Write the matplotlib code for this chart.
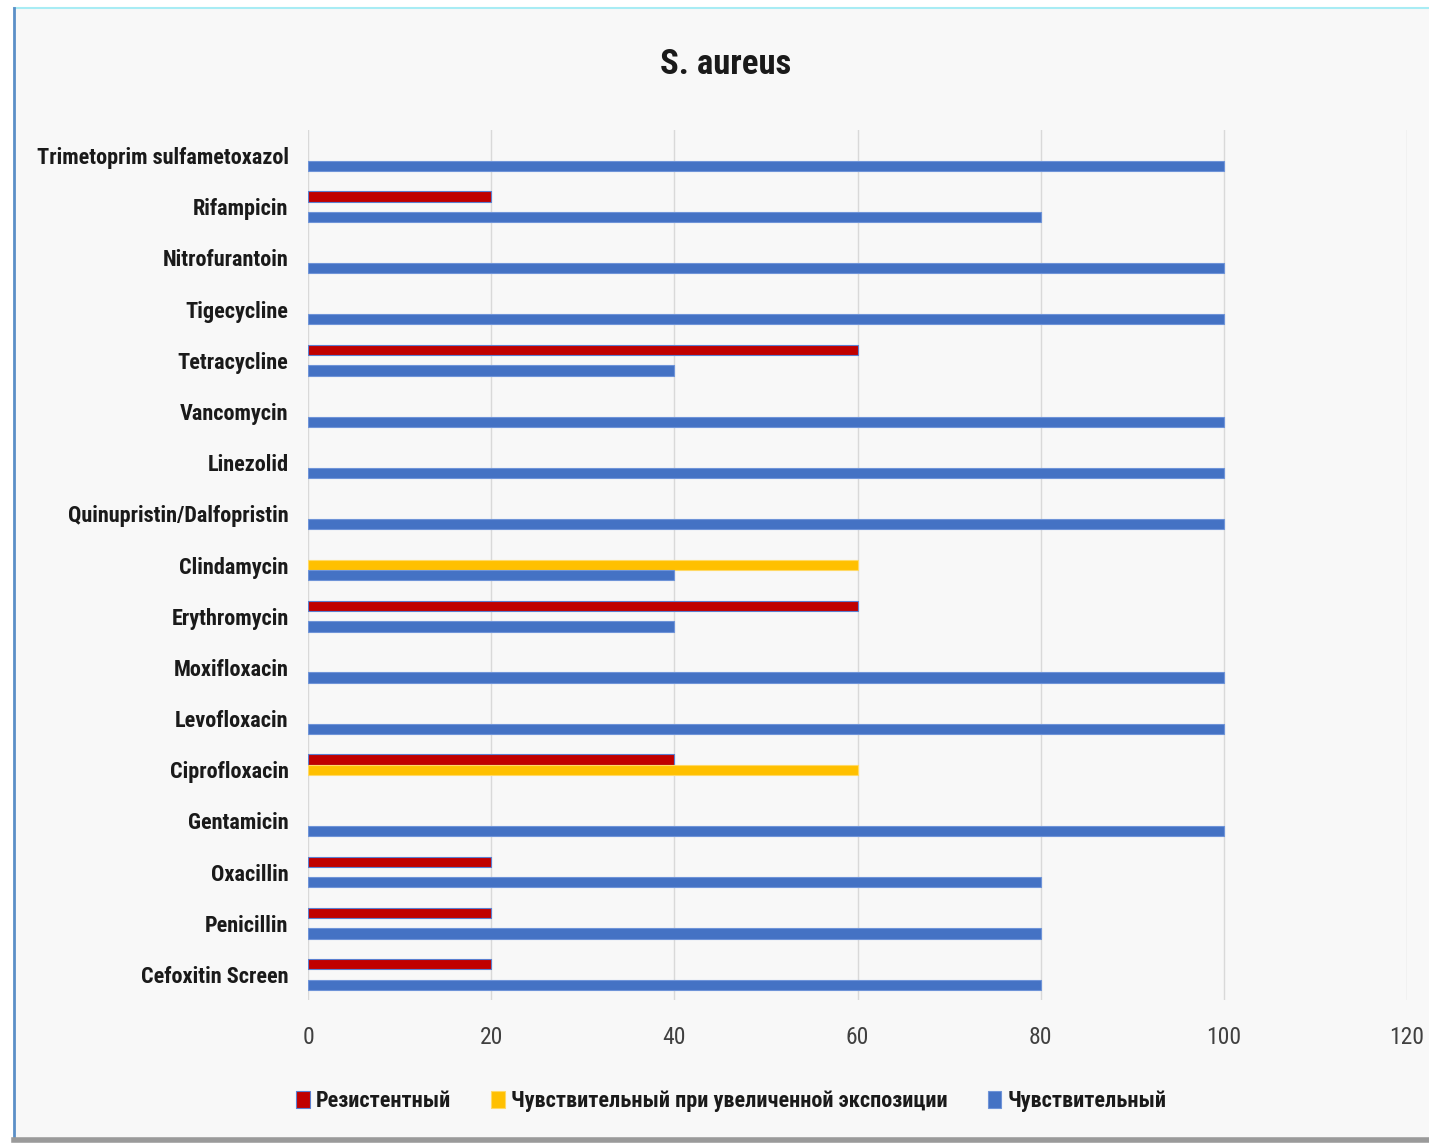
import numpy as np
import matplotlib
matplotlib.use("Agg")
from matplotlib import pyplot as plt
from matplotlib.patches import Rectangle
from matplotlib.lines import Line2D

plt.rcParams['font.family'] = ['Roboto Condensed', 'DejaVu Sans Condensed', 'Roboto', 'DejaVu Sans']
plt.rcParams['font.stretch'] = 'condensed'

# Data (bottom to top)
drugs = ["Cefoxitin Screen", "Penicillin", "Oxacillin", "Gentamicin", "Ciprofloxacin",
         "Levofloxacin", "Moxifloxacin", "Erythromycin", "Clindamycin",
         "Quinupristin/Dalfopristin", "Linezolid", "Vancomycin", "Tetracycline",
         "Tigecycline", "Nitrofurantoin", "Rifampicin", "Trimetoprim sulfametoxazol"]
resistant = [20, 20, 20, 0, 40, 0, 0, 60, 0, 0, 0, 0, 60, 0, 0, 20, 0]
intermediate = [0, 0, 0, 0, 60, 0, 0, 0, 60, 0, 0, 0, 0, 0, 0, 0, 0]
sensitive = [80, 80, 80, 100, 0, 100, 100, 40, 40, 100, 100, 100, 40, 100, 100, 80, 100]

series_names = ["Резистентный", "Чувствительный при увеличенной экспозиции", "Чувствительный"]
colors = ["#C00000", "#FFC000", "#4472C4"]

fig = plt.figure(figsize=(14.29, 11.45), dpi=100)
fig.patch.set_facecolor("white")

# frame / background
fig.add_artist(Rectangle((14 / 1429, 5 / 1145), 1 - 14 / 1429, 1 - 13 / 1145,
                         transform=fig.transFigure, facecolor="#f8f8f8",
                         edgecolor="none", zorder=-10))
fig.add_artist(Line2D([14 / 1429, 1], [1 - 8 / 1145, 1 - 8 / 1145], transform=fig.transFigure,
                      color="#a8ecf4", lw=1.5, zorder=-5))
fig.add_artist(Line2D([14 / 1429, 14 / 1429], [5 / 1145, 1 - 8 / 1145], transform=fig.transFigure,
                      color="#5b8fc7", lw=2, zorder=-5))
fig.add_artist(Line2D([14 / 1429, 1], [5 / 1145, 5 / 1145], transform=fig.transFigure,
                      color="#9a9a9a", lw=4, zorder=-5))

ax = fig.add_axes([308 / 1429, 1 - 1000 / 1145, (1407 - 308) / 1429, 870 / 1145])
ax.set_facecolor("none")

y = np.arange(len(drugs))
h = 0.2
offsets = [h, 0, -h]
edges = ["#5b7fd0", "#ffd966", "#6f94d8"]
for vals, off, c, ec, name in zip([resistant, intermediate, sensitive], offsets, colors, edges, series_names):
    lw = [0.8 if v > 0 else 0 for v in vals]
    ax.barh(y + off, vals, height=h, color=c, edgecolor=ec, linewidth=lw,
            label=name, zorder=3)

ax.set_xlim(0, 120)
ax.set_ylim(-0.5, 16.5)
ax.set_xticks(np.arange(0, 121, 20))
ax.set_yticks(y)
ax.set_yticklabels(drugs, fontsize=16, fontweight="bold", color="#1a1a1a")
ax.tick_params(axis="x", labelsize=17, colors="#404040", pad=19, length=0)
ax.tick_params(axis="y", length=0, pad=14)
ax.grid(axis="x", color="#d9d9d9", lw=1, zorder=0)
for s in ax.spines.values():
    s.set_visible(False)

fig.text(0.508, 1 - 65 / 1145, "S. aureus", ha="center", va="center",
         fontsize=25, fontweight="bold", color="#1a1a1a")

handles = [Rectangle((0, 0), 1, 1, facecolor=c, edgecolor=ec, lw=0.8) for c, ec in zip(colors, edges)]
leg = fig.legend(handles, series_names, loc="center", bbox_to_anchor=(0.512, 1 - 1101 / 1145),
                 ncol=3, frameon=False, handlelength=0.6, handleheight=0.8,
                 handletextpad=0.3, columnspacing=1.8,
                 prop={"size": 16, "weight": "bold"})
for t in leg.get_texts():
    t.set_color("#1a1a1a")

plt.savefig("out.png", dpi=100, facecolor=fig.get_facecolor())
